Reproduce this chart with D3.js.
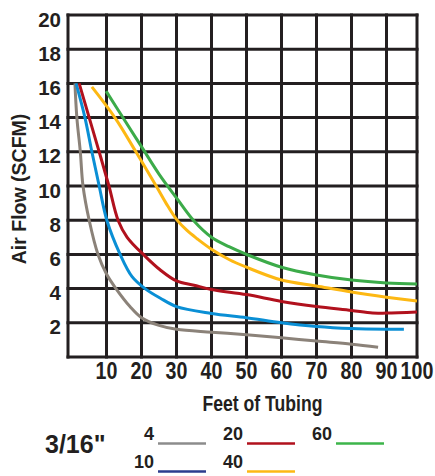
<!DOCTYPE html>
<html><head><meta charset="utf-8">
<script src="https://cdn.jsdelivr.net/npm/d3@7"></script>
<style>
html,body{margin:0;padding:0;background:#fff;}
svg{display:block;}
text{font-family:"Liberation Sans",Arial,sans-serif;font-weight:bold;fill:#231f20;}
</style></head><body>
<script>
// ---- data ----
const xTickValues = [10, 20, 30, 40, 50, 60, 70, 80, 90, 100];
const yTickValues = [2, 4, 6, 8, 10, 12, 14, 16, 18, 20];
const seriesLabels = ["4", "10", "20", "40", "60"];
const curveColors = ["#8b8279", "#0a8fd5", "#b1111d", "#fdb813", "#3cab49"];
const legendColors = ["#8c8c8c", "#2c3c8e", "#b1111d", "#fdb813", "#3cb54a"];
const tubingLabel = "3/16\"";

// [feet of tubing, SCFM] per tubing length series
const tubing4 = [[1.8,16],[2.3,14],[3.2,12],[3.9,10],[5.5,8],[7.8,6],[10,4.85],[12.7,4],[16.7,2.95],[20,2.3],[25,1.85],[30,1.62],[40,1.45],[50,1.3],[60,1.12],[70,0.93],[80,0.75],[87.6,0.57]];
const tubing10 = [[2.1,16],[4.4,14],[6.2,12],[8.1,10],[10.1,8],[13.9,6],[17.3,4.7],[21,4],[25.3,3.45],[30,2.95],[40,2.55],[50,2.3],[60,2.0],[70,1.78],[80,1.66],[90,1.62],[95.7,1.62]];
const tubing20 = [[2.9,16],[5.5,14],[8.1,12],[10.7,10],[13.3,8],[15.9,7],[21,5.9],[25.3,5.1],[30,4.45],[35,4.2],[40,3.95],[50,3.65],[60,3.25],[70,2.95],[80,2.72],[86,2.57],[90,2.57],[100,2.63]];
const tubing40 = [[6.2,15.8],[12.4,14],[18.4,12],[24.2,10],[27,9.0],[30,8.05],[33,7.4],[36,6.9],[40,6.3],[45,5.7],[50,5.25],[60,4.5],[70,4.15],[80,3.8],[90,3.5],[100,3.27]];
const tubing60 = [[9.9,15.55],[15,13.9],[20,12.3],[25,10.7],[30,9.3],[35,7.95],[40,7.0],[45,6.45],[50,6.0],[60,5.25],[70,4.8],[80,4.5],[90,4.33],[100,4.27]];
const allSeries = [tubing4, tubing10, tubing20, tubing40, tubing60];

// ---- drawing ----
const W = 435, H = 476, ink = "#231f20";
const svg = d3.select("body").append("svg").attr("width", W).attr("height", H);

const x = d3.scaleLinear().domain([0, 10, 90, 100]).range([68, 106.5, 386.5, 417]);
const y = d3.scaleLinear().domain([0, 20]).range([357, 15]);

// grid
const grid = svg.append("g");
grid.selectAll("line.v").data([0].concat(xTickValues)).join("line")
  .attr("x1", d => x(d)).attr("x2", d => x(d))
  .attr("y1", y(0)).attr("y2", y(20))
  .attr("stroke", ink).attr("stroke-width", 3).attr("stroke-linecap", "square");
grid.selectAll("line.h").data([0].concat(yTickValues)).join("line")
  .attr("y1", d => y(d)).attr("y2", d => y(d))
  .attr("x1", x(0)).attr("x2", x(100))
  .attr("stroke", ink).attr("stroke-width", 3).attr("stroke-linecap", "square");

// curves
const line = d3.line().x(d => x(d[0])).y(d => y(d[1])).curve(d3.curveCatmullRom.alpha(0.5));
svg.append("g").selectAll("path").data(allSeries).join("path")
  .attr("d", line).attr("fill", "none")
  .attr("stroke", (d, i) => curveColors[i]).attr("stroke-width", 3);

// y tick labels
svg.append("g").selectAll("text").data(yTickValues).join("text")
  .attr("x", 61).attr("y", d => y(d) + 11.5)
  .attr("text-anchor", "end").attr("font-size", 20.5)
  .text(d => d);

// x tick labels (condensed)
svg.append("g").selectAll("text").data(xTickValues).join("text")
  .attr("transform", d => `translate(${x(d)},379) scale(0.82,1)`)
  .attr("text-anchor", "middle").attr("font-size", 24)
  .text(d => d);

// axis titles
svg.append("text").attr("transform", "translate(26,189) rotate(-90)")
  .attr("text-anchor", "middle").attr("font-size", 19.5).text("Air Flow (SCFM)");
svg.append("text").attr("transform", "translate(262.5,411) scale(0.82,1)")
  .attr("text-anchor", "middle").attr("font-size", 21.5).text("Feet of Tubing");

// legend
svg.append("text").attr("x", 45).attr("y", 453).attr("font-size", 25).text(tubingLabel);
const legPos = [[154, 440], [154, 468], [243, 440], [243, 468], [332, 440]];
const leg = svg.append("g").selectAll("g").data(seriesLabels).join("g");
leg.append("text")
  .attr("x", (d, i) => legPos[i][0]).attr("y", (d, i) => legPos[i][1])
  .attr("text-anchor", "end").attr("font-size", 18).text(d => d);
leg.append("line")
  .attr("x1", (d, i) => legPos[i][0] + 4).attr("x2", (d, i) => legPos[i][0] + 52)
  .attr("y1", (d, i) => legPos[i][1] + 3.5).attr("y2", (d, i) => legPos[i][1] + 3.5)
  .attr("stroke", (d, i) => legendColors[i]).attr("stroke-width", 2.5);
</script>
</body></html>
